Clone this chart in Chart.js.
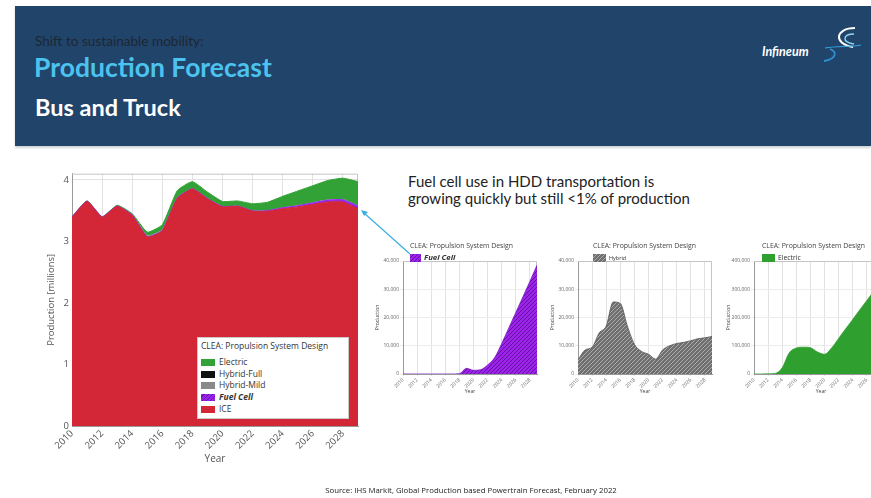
<!DOCTYPE html>
<html>
<head>
<meta charset="utf-8">
<script src="https://cdn.jsdelivr.net/npm/chart.js@4.4.1/dist/chart.umd.min.js"></script>
<style>
html, body { margin: 0; padding: 0; background: #fff; }
body { width: 871px; height: 498px; overflow: hidden; position: relative; font-family: "Open Sans", sans-serif; }
.abs { position: absolute; }
#head { left: 15px; top: 6px; width: 856px; height: 140px; background: #21446a; box-shadow: 0 2px 2px #cfd4d9; }
#kicker { left: 35px; top: 33px; font: 13.6px Lato, sans-serif; color: #1d2733; white-space: nowrap; }
#title { left: 34px; top: 51px; font: bold 26.5px Lato, sans-serif; color: #4cc3ee; white-space: nowrap; }
#sub { left: 35px; top: 93px; font: bold 23.5px Lato, sans-serif; color: #fff; white-space: nowrap; }
#note { left: 408px; top: 173px; font: 15px Lato, sans-serif; color: #222; line-height: 17px; white-space: nowrap; }
#source { left: 0; width: 942px; top: 485px; text-align: center; font: 7.8px "Open Sans", sans-serif; color: #222; }
#mlegend { left: 197px; top: 337px; width: 150px; height: 80px; background: #fff; border: 1px solid #c9c9c9; font: 8.5px "Open Sans", sans-serif; color: #333; }
#mlegend .lt { position: absolute; left: 3px; top: 2px; white-space: nowrap; }
#mlegend .li { position: absolute; left: 3px; height: 11px; line-height: 11px; white-space: nowrap; }
#mlegend .sw { display: inline-block; width: 14px; height: 7px; margin-right: 4px; vertical-align: -1px; }
canvas { position: absolute; }
</style>
</head>
<body>
<div id="head" class="abs"></div>
<div id="kicker" class="abs">Shift to sustainable mobility:</div>
<div id="title" class="abs">Production Forecast</div>
<div id="sub" class="abs">Bus and Truck</div>
<svg class="abs" style="left:755px;top:20px" width="116" height="48">
  <text x="7" y="36" font-family="Lato, sans-serif" font-style="italic" font-weight="bold" font-size="12.5" fill="#fff">Infineum</text>
  <path d="M100 8 C 80 8, 78 24, 98 27" stroke="#fff" stroke-width="2" fill="none"/>
  <path d="M99 14 C 88 14, 86 22, 99 24" stroke="#8fd6f3" stroke-width="1.4" fill="none"/>
  <path d="M70 28 C 82 26, 96 27, 106 25" stroke="#3aa2de" stroke-width="1.2" fill="none"/>
  <path d="M75 29 C 83 32, 81 39, 69 41" stroke="#2f91d2" stroke-width="1.8" fill="none"/>
</svg>

<div id="note" class="abs">Fuel cell use in HDD transportation is<br>growing quickly but still &lt;1% of production</div>

<canvas id="main" width="325" height="305" style="left:40px;top:165px"></canvas>
<div id="mlegend" class="abs">
  <div class="lt">CLEA: Propulsion System Design</div>
  <div class="li" style="top:18px"><span class="sw" style="background:#33a236"></span>Electric</div>
  <div class="li" style="top:30px"><span class="sw" style="background:#111"></span>Hybrid-Full</div>
  <div class="li" style="top:41px"><span class="sw" style="background:#8a8a8a"></span>Hybrid-Mild</div>
  <div class="li" style="top:53px;font-weight:bold;font-style:italic"><span class="sw" style="background:repeating-linear-gradient(135deg,#9a24ea 0 2px,#6a10b0 2px 3px)"></span>Fuel Cell</div>
  <div class="li" style="top:65px"><span class="sw" style="background:#d32738"></span>ICE</div>
</div>

<canvas id="fc" width="172" height="164" style="left:372px;top:236px"></canvas>
<canvas id="hy" width="172" height="164" style="left:547px;top:236px"></canvas>
<canvas id="el" width="172" height="164" style="left:723px;top:236px"></canvas>

<svg class="abs" style="left:0;top:0" width="871" height="498">
  <line x1="410" y1="254" x2="364" y2="213" stroke="#3aaee0" stroke-width="1.2"/>
  <path d="M361 210 L 368 212 L 364 216 Z" fill="#3aaee0"/>
</svg>

<div id="source" class="abs">Source: IHS Markit, Global Production based Powertrain Forecast, February 2022</div>

<script>
// years on the x axis
const years = [2010, 2011, 2012, 2013, 2014, 2015, 2016, 2017, 2018, 2019, 2020, 2021, 2022, 2023, 2024, 2025, 2026, 2027, 2028, 2029];

// main chart, production in millions (stacked)
const iceM = [3.39, 3.65, 3.39, 3.57, 3.42, 3.07, 3.17, 3.70, 3.85, 3.69, 3.56, 3.57, 3.49, 3.49, 3.53, 3.56, 3.60, 3.64, 3.64, 3.53];
const fuelCellM = [0, 0, 0, 0, 0, 0, 0, 0, 0.0001, 0.002, 0.0013, 0.0015, 0.003, 0.006, 0.011, 0.017, 0.022, 0.027, 0.033, 0.038];
const hybridMildM = [0.005, 0.008, 0.009, 0.014, 0.016, 0.025, 0.025, 0.016, 0.010, 0.008, 0.007, 0.005, 0.008, 0.010, 0.011, 0.011, 0.012, 0.012, 0.013, 0.013];
const hybridFullM = [0.001, 0.001, 0.001, 0.001, 0.001, 0.001, 0.001, 0.001, 0.001, 0.001, 0.001, 0.001, 0.001, 0.001, 0.001, 0.001, 0.001, 0.001, 0.001, 0.001];
const electricM = [0, 0, 0.001, 0.002, 0.013, 0.055, 0.075, 0.11, 0.11, 0.10, 0.08, 0.08, 0.11, 0.13, 0.18, 0.23, 0.27, 0.31, 0.34, 0.39];

// small charts, units
const fuelCellUnits = [0, 0, 0, 0, 0, 0, 0, 0, 100, 2000, 1300, 1500, 3200, 5800, 10800, 16300, 21800, 27300, 32800, 38500];
const hybridUnits = [5000, 8500, 9500, 14500, 17000, 25500, 25000, 17000, 10500, 8000, 7000, 5300, 8500, 10000, 10800, 11200, 11800, 12500, 12800, 13300];
const electricUnits = [0, 0, 500, 2000, 22000, 75000, 92000, 95000, 93000, 78000, 70000, 92000, 126000, 160000, 193000, 227000, 260000, 294000, 328000, 361000];

const pts = arr => years.map((x, i) => ({ x: x, y: arr[i] }));

function hatch(bg, fg) {
	const c = document.createElement("canvas");
	c.width = c.height = 4;
	const g = c.getContext("2d");
	g.fillStyle = bg;
	g.fillRect(0, 0, 4, 4);
	g.strokeStyle = fg;
	g.lineWidth = 0.9;
	g.beginPath();
	g.moveTo(0, 4); g.lineTo(4, 0);
	g.moveTo(-1, 1); g.lineTo(1, -1);
	g.moveTo(3, 5); g.lineTo(5, 3);
	g.stroke();
	return g.createPattern(c, "repeat");
}

// light frame on top/right of the plot
const frame = {
	id: "frame",
	beforeDatasetsDraw(c) {
		const a = c.chartArea, g = c.ctx;
		g.save();
		g.strokeStyle = "#c4c4c4";
		g.lineWidth = 1;
		g.beginPath();
		g.moveTo(a.left, a.top + 0.5);
		g.lineTo(a.right - 0.5, a.top + 0.5);
		g.lineTo(a.right - 0.5, a.bottom);
		g.stroke();
		g.restore();
	},
};

function makeCaption(cap) {
	return {
		id: "caption",
		afterDraw(c) {
			const a = c.chartArea, g = c.ctx;
			const x = a.left + cap.dx;
			g.save();
			g.textBaseline = "middle";
			g.font = '6.9px "Open Sans"';
			g.fillStyle = "#444";
			g.fillText("CLEA: Propulsion System Design", x, a.top - 15);
			g.fillStyle = cap.swatch;
			g.fillRect(x, a.top - 7, cap.sw, 8);
			g.font = cap.font;
			g.fillStyle = "#333";
			g.fillText(cap.label, x + cap.sw + 3, a.top - 3);
			g.restore();
		},
	};
}

const tickFont = { family: "Open Sans", size: 9.5 };

new Chart(document.getElementById("main"), {
	type: "line",
	data: {
		datasets: [
			{ label: "ICE", data: pts(iceM), backgroundColor: "#d32738", borderColor: "#d32738", borderWidth: 1, fill: "origin" },
			{ label: "Fuel Cell", data: pts(fuelCellM), backgroundColor: "#8e1ee0", borderColor: "#9a2ef0", borderWidth: 1.5, fill: "-1" },
			{ label: "Hybrid-Mild", data: pts(hybridMildM), backgroundColor: "#8a8a8a", borderColor: "#8a8a8a", borderWidth: 0, fill: "-1" },
			{ label: "Hybrid-Full", data: pts(hybridFullM), backgroundColor: "#111", borderColor: "#111", borderWidth: 0, fill: "-1" },
			{ label: "Electric", data: pts(electricM), backgroundColor: "#33a236", borderColor: "#33a236", borderWidth: 1, fill: "-1" },
		],
	},
	options: {
		animation: false,
		responsive: false,
		elements: { point: { radius: 0 }, line: { tension: 0.15 } },
		layout: { padding: { top: 7, right: 7, left: 0, bottom: 0 } },
		plugins: { legend: { display: false }, tooltip: { enabled: false } },
		scales: {
			x: {
				type: "linear", min: 2010, max: 2029,
				afterFit: s => { s.height = 44; },
				ticks: { stepSize: 2, includeBounds: false, autoSkip: false, minRotation: 45, maxRotation: 45, callback: v => String(v), font: tickFont, color: "#555", padding: 2 },
				grid: { color: "#e2e2e2", drawTicks: false },
				border: { color: "#999" },
				title: { display: true, text: "Year", font: { family: "Open Sans", size: 10 }, color: "#555", padding: { top: 0, bottom: 5 } },
			},
			y: {
				stacked: true, min: 0, max: 4.1,
				afterFit: s => { s.width = 32; },
				ticks: { stepSize: 1, includeBounds: false, font: tickFont, color: "#555", padding: 3 },
				grid: { color: "#e2e2e2", drawTicks: false },
				border: { color: "#999" },
				title: { display: true, text: "Production [millions]", font: { family: "Open Sans", size: 9.5 }, color: "#555", padding: { top: 6, bottom: 2 } },
			},
		},
	},
	plugins: [frame],
});

function smallChart(id, values, fill, line, yMax, yStep, cap) {
	const f = { family: "Open Sans", size: 5 };
	new Chart(document.getElementById(id), {
		type: "line",
		data: { datasets: [{ data: pts(values), backgroundColor: fill, borderColor: line, borderWidth: 0.8, fill: "origin", pointRadius: 0, cubicInterpolationMode: "monotone" }] },
		options: {
			animation: false,
			responsive: false,
			layout: { padding: { top: 25, right: 7, left: 0, bottom: 0 } },
			plugins: { legend: { display: false }, tooltip: { enabled: false } },
			scales: {
				x: {
					type: "linear", min: 2010, max: 2029,
					afterFit: s => { s.height = 26; },
					ticks: { stepSize: 2, includeBounds: false, autoSkip: false, minRotation: 45, maxRotation: 45, callback: v => String(v), font: f, color: "#666", padding: 1 },
					grid: { color: "#e2e2e2", tickLength: 2 },
					border: { color: "#999" },
					title: { display: true, text: "Year", font: f, color: "#444", padding: { top: 0, bottom: 5 } },
				},
				y: {
					min: 0, max: yMax,
					afterFit: s => { s.width = 31; },
					ticks: { stepSize: yStep, callback: v => v.toLocaleString("en-US"), font: f, color: "#666", padding: 1 },
					grid: { color: "#ececec", tickLength: 3 },
					border: { color: "#999" },
					title: { display: true, text: "Production", font: f, color: "#444", padding: { top: 3, bottom: 1 } },
				},
			},
		},
		plugins: [frame, makeCaption(cap)],
	});
}

const fcFill = hatch("#9b24e8", "#5d0c9c");
const hyFill = hatch("#6f6f6f", "#b4b4b4");

smallChart("fc", fuelCellUnits, fcFill, "#7a18c0", 40000, 10000, { dx: 7, sw: 11, swatch: fcFill, label: "Fuel Cell", font: 'bold italic 7.8px "Open Sans"' });
smallChart("hy", hybridUnits, hyFill, "#555", 40000, 10000, { dx: 15, sw: 13, swatch: hyFill, label: "Hybrid", font: '5.5px "Open Sans"' });
smallChart("el", electricUnits, "#2f9f2f", "#2f9f2f", 400000, 100000, { dx: 8, sw: 13, swatch: "#2f9f2f", label: "Electric", font: '6.8px "Open Sans"' });
</script>
</body>
</html>
